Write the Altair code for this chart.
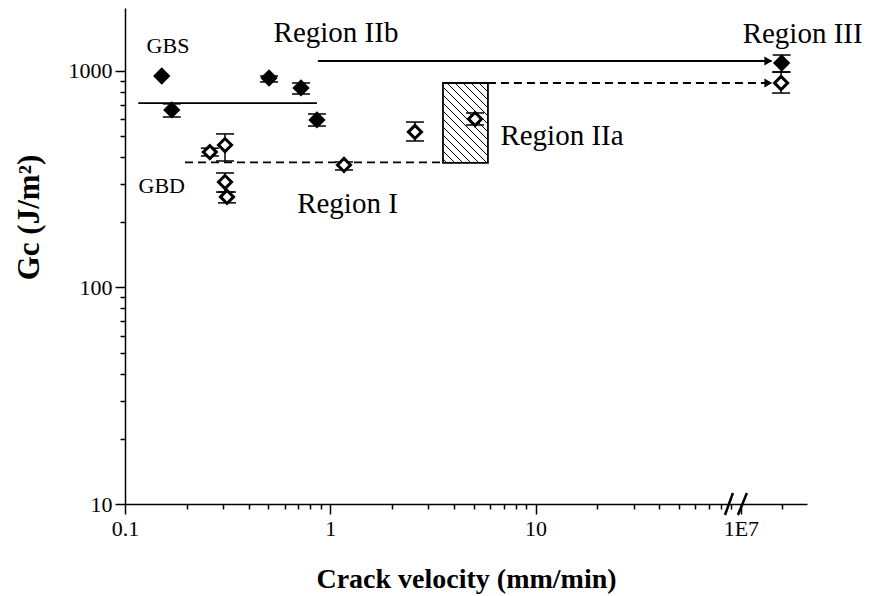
import altair as alt
import pandas as pd
import numpy as np

# ---------------- data ----------------
# GBS : filled diamonds
gbs_v = [0.151, 0.169, 0.503, 0.720, 0.861, 158]
gbs_g = [948, 661, 928, 835, 594, 1089]
gbs_lo = [948, 613, 890, 783, 557, 989]
gbs_hi = [948, 705, 948, 880, 633, 1185]

# GBD : open diamonds
gbd_v = [0.259, 0.307, 0.307, 0.314, 1.166, 2.585, 5.07, 157]
gbd_g = [422, 455, 307, 262, 368, 523, 600, 880]
gbd_lo = [405, 384, 276, 246, 349, 475, 563, 791]
gbd_hi = [440, 512, 338, 276, 380, 581, 640, 989]

# guide lines
solid_x1 = [0.116, 0.870]
solid_x2 = [0.861, 141]
solid_y = [711, 1112]
dash_x1 = [0.196, 5.86]
dash_x2 = [3.54, 141]
dash_y = [378, 880]
arrow_x = [136, 136]
arrow_y = [1112, 880]

# Region IIa hatched box
box_x = [3.54, 5.86]
box_y = [376, 880]

# annotations
ann_text = ["GBS", "GBD", "Region IIb", "Region I", "Region IIa", "Region III"]
ann_x = [0.162, 0.151, 1.066, 1.213, 13.45, 200]
ann_y = [1211, 273, 1361, 221, 455, 1347]
ann_size = [22, 22, 29, 29, 29, 29]

# axes
x_major = [0.1, 1, 10, 100]
x_labels = ["0.1", "1", "10", "1E7"]
x_minor = [0.2, 0.3, 0.4, 0.5, 0.6, 0.7, 0.8, 0.9,
           2, 3, 4, 5, 6, 7, 8, 9,
           20, 30, 40, 50, 60, 70, 80, 90, 158]
y_major = [10, 100, 1000]
y_minor = [20, 30, 40, 50, 60, 70, 80, 90,
           200, 300, 400, 500, 600, 700, 800, 900]

# axis-break marks (two slashes across the x axis)
brk_x1 = [83.7, 96.8]
brk_x2 = [91.5, 107.0]
brk_y1 = [8.9, 8.9]
brk_y2 = [11.24, 11.24]

FONT = "Liberation Serif"
W, H = 682, 496
X_DOM = [0.1, 210]
Y_DOM = [10, 1954]

xs = alt.Scale(type="log", domain=X_DOM, nice=False)
ys = alt.Scale(type="log", domain=Y_DOM, nice=False)

lab_map = "{" + ",".join(f"'{v}':'{l}'" for v, l in zip(x_major, x_labels)) + "}"

x_axis_major = alt.Axis(
    orient="bottom", values=x_major, labelExpr=f"{lab_map}[''+datum.value]",
    grid=False, tickSize=10, tickWidth=1.5, tickColor="black",
    domainColor="black", domainWidth=1.5, labelFont=FONT, labelFontSize=22,
    labelColor="black", labelPadding=4, labelFlush=False,
    title="Crack velocity (mm/min)", titleFont=FONT, titleFontSize=28,
    titleFontWeight="bold", titleColor="black", titleY=83,
    titleBaseline="alphabetic",
)
x_axis_minor = alt.Axis(
    orient="bottom", values=x_minor, labels=False, grid=False, tickSize=5,
    tickWidth=1.5, tickColor="black", domain=False, title=None,
)
y_axis_major = alt.Axis(
    orient="left", values=y_major, format="d", grid=False, tickSize=10,
    tickWidth=1.5, tickColor="black", domainColor="black", domainWidth=1.5,
    labelFont=FONT, labelFontSize=22, labelColor="black", labelPadding=3,
    labelFlush=False,
    title="Gc (J/m²)", titleFont=FONT, titleFontSize=31, titleFontWeight="bold",
    titleColor="black", titleAngle=270, titleX=-87, titleY=209,
    titleAlign="center", titleBaseline="alphabetic",
)
y_axis_minor = alt.Axis(
    orient="left", values=y_minor, labels=False, grid=False, tickSize=5,
    tickWidth=1.5, tickColor="black", domain=False, title=None,
)

# ---------------- tables ----------------
gbs = pd.DataFrame({"v": gbs_v, "g": gbs_g, "lo": gbs_lo, "hi": gbs_hi})
gbd = pd.DataFrame({"v": gbd_v, "g": gbd_g, "lo": gbd_lo, "hi": gbd_hi})
err = pd.concat([gbs, gbd], ignore_index=True)
err = err[err["hi"] > err["lo"]]
caps = pd.concat([
    err[["v", "lo"]].rename(columns={"lo": "c"}),
    err[["v", "hi"]].rename(columns={"hi": "c"}),
], ignore_index=True)
solid = pd.DataFrame({"x1": solid_x1, "x2": solid_x2, "y": solid_y})
dash = pd.DataFrame({"x1": dash_x1, "x2": dash_x2, "y": dash_y})
arrows = pd.DataFrame({"x": arrow_x, "y": arrow_y})
box = pd.DataFrame({"x1": [box_x[0]], "x2": [box_x[1]],
                    "y1": [box_y[0]], "y2": [box_y[1]]})
ann = pd.DataFrame({"t": ann_text, "x": ann_x, "y": ann_y, "s": ann_size})
brk = pd.DataFrame({"x1": brk_x1, "x2": brk_x2, "y1": brk_y1, "y2": brk_y2})

# hatch pattern (style only) inside the Region IIa box
pxx = W / (np.log10(X_DOM[1]) - np.log10(X_DOM[0]))
pxy = H / (np.log10(Y_DOM[1]) - np.log10(Y_DOM[0]))
lx0, lx1 = np.log10(box_x)
ly0, ly1 = np.log10(box_y)
bw = (lx1 - lx0) * pxx
bh = (ly1 - ly0) * pxy
rows = []
for c in np.arange(-bh + 4, bw, 8.0):
    u0, u1 = max(0.0, c), min(bw, bh + c)
    if u1 - u0 < 1:
        continue
    v0, v1 = u0 - c, u1 - c
    rows.append({"hx1": 10 ** (lx0 + u0 / pxx), "hx2": 10 ** (lx0 + u1 / pxx),
                 "hy1": 10 ** (ly1 - v0 / pxy), "hy2": 10 ** (ly1 - v1 / pxy)})
hatch = pd.DataFrame(rows)

# ---------------- layers ----------------
ax_major = alt.Chart(pd.DataFrame({"v": [0.1], "g": [10]})).mark_point(opacity=0).encode(
    x=alt.X("v:Q", scale=xs, axis=x_axis_major),
    y=alt.Y("g:Q", scale=ys, axis=y_axis_major),
)
ax_minor = alt.Chart(pd.DataFrame({"v": [0.1], "g": [10]})).mark_point(opacity=0).encode(
    x=alt.X("v:Q", scale=xs, axis=x_axis_minor),
    y=alt.Y("g:Q", scale=ys, axis=y_axis_minor),
)

hatch_l = alt.Chart(hatch).mark_rule(color="black", strokeWidth=1).encode(
    x=alt.X("hx1:Q", scale=xs, axis=None), x2="hx2:Q",
    y=alt.Y("hy1:Q", scale=ys, axis=None), y2="hy2:Q",
)
box_l = alt.Chart(box).mark_rect(fill=None, stroke="black", strokeWidth=1.8).encode(
    x=alt.X("x1:Q", scale=xs, axis=None), x2="x2:Q",
    y=alt.Y("y1:Q", scale=ys, axis=None), y2="y2:Q",
)
solid_l = alt.Chart(solid).mark_rule(color="black", strokeWidth=1.8).encode(
    x=alt.X("x1:Q", scale=xs, axis=None), x2="x2:Q",
    y=alt.Y("y:Q", scale=ys, axis=None),
)
dash_l = alt.Chart(dash).mark_rule(color="black", strokeWidth=1.8,
                                   strokeDash=[8, 5]).encode(
    x=alt.X("x1:Q", scale=xs, axis=None), x2="x2:Q",
    y=alt.Y("y:Q", scale=ys, axis=None),
)
arrow_l = alt.Chart(arrows).mark_point(shape="triangle-right", filled=True,
                                       color="black", size=80, opacity=1).encode(
    x=alt.X("x:Q", scale=xs, axis=None),
    y=alt.Y("y:Q", scale=ys, axis=None),
)
err_l = alt.Chart(err).mark_rule(color="black", strokeWidth=1.5).encode(
    x=alt.X("v:Q", scale=xs, axis=None),
    y=alt.Y("lo:Q", scale=ys, axis=None), y2="hi:Q",
)
cap_l = alt.Chart(caps).mark_tick(orient="horizontal", color="black", size=18,
                                  thickness=1.5, opacity=1).encode(
    x=alt.X("v:Q", scale=xs, axis=None),
    y=alt.Y("c:Q", scale=ys, axis=None),
)
gbs_l = alt.Chart(gbs).mark_point(shape="diamond", filled=True, color="black",
                                  size=300, opacity=1).encode(
    x=alt.X("v:Q", scale=xs, axis=None),
    y=alt.Y("g:Q", scale=ys, axis=None),
)
gbd_l = alt.Chart(gbd).mark_point(shape="diamond", filled=True, fill="white",
                                  stroke="black", strokeWidth=3, size=170,
                                  opacity=1).encode(
    x=alt.X("v:Q", scale=xs, axis=None),
    y=alt.Y("g:Q", scale=ys, axis=None),
)
ann_l = alt.Chart(ann).mark_text(font=FONT, color="black", align="center",
                                 baseline="alphabetic").encode(
    x=alt.X("x:Q", scale=xs, axis=None),
    y=alt.Y("y:Q", scale=ys, axis=None),
    text="t:N",
    size=alt.Size("s:Q", scale=None, legend=None),
)
brk_l = alt.Chart(brk).mark_rule(color="black", strokeWidth=2.5).encode(
    x=alt.X("x1:Q", scale=xs, axis=None), x2="x2:Q",
    y=alt.Y("y1:Q", scale=ys, axis=None), y2="y2:Q",
)

chart = alt.layer(
    ax_major, ax_minor, hatch_l, box_l, solid_l, dash_l, arrow_l,
    err_l, cap_l, gbs_l, gbd_l, ann_l, brk_l,
).resolve_axis(x="independent", y="independent").properties(
    width=W, height=H,
    autosize=alt.AutoSizeParams(type="none"),
    padding={"left": 117, "top": 0, "right": 62, "bottom": 92},
).configure_view(stroke=None)

chart.save("out.html", embed_options={"renderer": "svg", "actions": False})
